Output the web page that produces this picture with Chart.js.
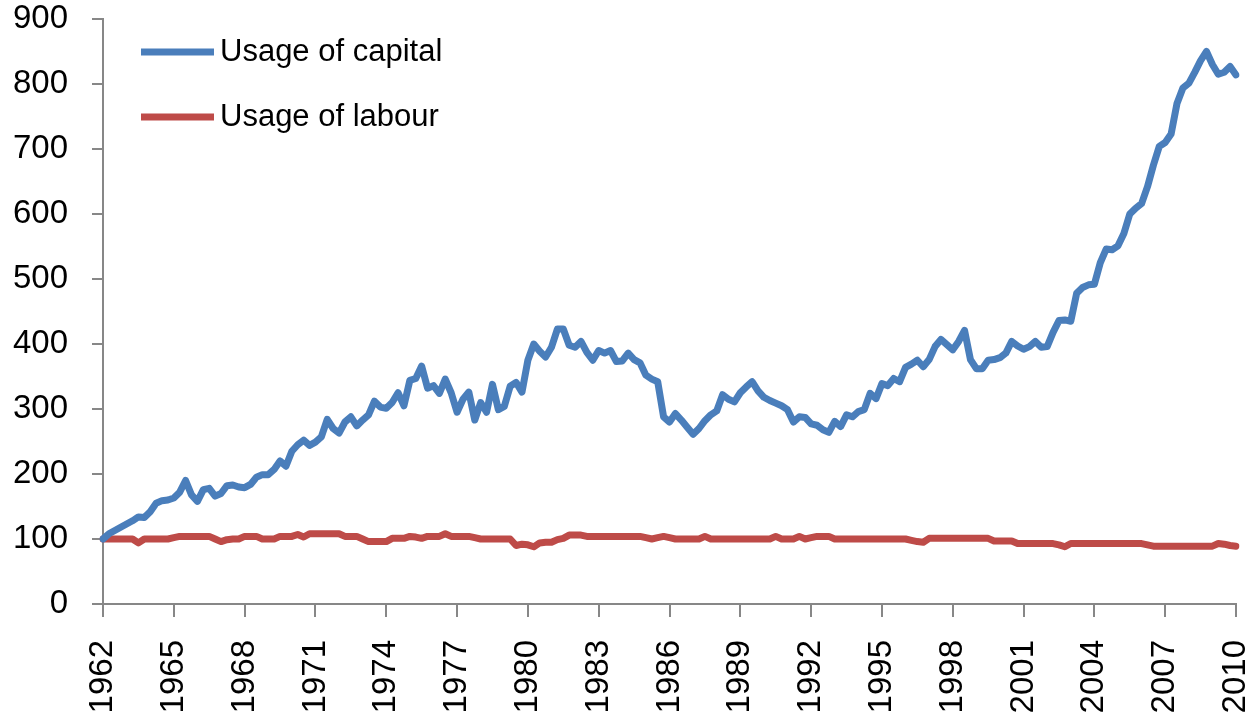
<!DOCTYPE html>
<html>
<head>
<meta charset="utf-8">
<script src="https://cdn.jsdelivr.net/npm/chart.js@4.4.1/dist/chart.umd.min.js"></script>
<style>
html,body{margin:0;padding:0;background:#fff;overflow:hidden}
#wrap{width:1256px;height:716px;position:relative}
</style>
</head>
<body>
<div id="wrap"><canvas id="c"></canvas></div>
<script>
// Quarterly index, 1962 Q1 = 100
const startYear = 1962;
const endYear = 2010;
const tickLabels = ['1962','1965','1968','1971','1974','1977','1980','1983','1986','1989','1992','1995','1998','2001','2004','2007','2010'];

const capital = [
  100,108,113,118, 123,128,134,133, 142,155,159,160, 163,172,190,168,
  158,176,178,166, 170,182,183,180, 179,184,195,199, 199,207,220,212,
  235,245,252,244, 249,257,284,270, 263,280,288,274, 283,291,312,303,
  301,310,325,305, 344,347,366,332, 336,324,346,325, 295,315,326,283,
  310,295,338,299, 304,335,341,326, 375,400,389,380, 395,423,423,398,
  395,404,387,375, 390,386,390,373, 374,386,376,371, 352,346,342,288,
  280,293,283,272, 261,270,282,291, 297,322,315,311, 325,334,342,328,
  318,313,309,305, 299,280,288,287, 277,275,268,264, 281,273,291,288,
  296,299,324,316, 339,336,347,342, 364,369,375,365, 376,396,407,399,
  391,404,421,376, 362,362,375,376, 379,386,404,397, 392,396,404,395,
  396,418,436,437, 435,478,487,491, 492,525,546,545, 551,570,600,609,
  616,642,675,704, 710,723,770,794, 801,818,836,850, 830,815,818,827,
  814
];

const labour = [
  100,100,100,100, 100,100,94,100, 100,100,100,100, 102,104,104,104,
  104,104,104,100, 96,99,100,100, 104,104,104,100, 100,100,104,104,
  104,107,103,108, 108,108,108,108, 108,104,104,104, 100,96,96,96,
  96,101,101,101, 104,103,101,104, 104,104,108,104, 104,104,104,102,
  100,100,100,100, 100,100,90,92, 91,88,94,95, 95,99,101,106,
  106,106,104,104, 104,104,104,104, 104,104,104,104, 102,100,102,104,
  102,100,100,100, 100,100,104,100, 100,100,100,100, 100,100,100,100,
  100,100,104,100, 100,100,104,100, 102,104,104,104, 100,100,100,100,
  100,100,100,100, 100,100,100,100, 100,98,96,95, 101,101,101,101,
  101,101,101,101, 101,101,101,97, 97,97,97,93, 93,93,93,93,
  93,93,91,88, 93,93,93,93, 93,93,93,93, 93,93,93,93,
  93,91,89,89, 89,89,89,89, 89,89,89,89, 89,93,92,90,
  89
];

const quarters = [];
for (let y = startYear; y <= endYear; y++) {
  for (let q = 1; q <= 4; q++) {
    if (y === endYear && q > 1) break;
    quarters.push(y + ' Q' + q);
  }
}

const FONT = '"Liberation Sans", Arial, sans-serif';
const AXIS_GREY = '#878787';

const insideLegend = {
  id: 'insideLegend',
  afterDraw(chart) {
    const ctx = chart.ctx;
    const a = chart.chartArea;
    chart.data.datasets.forEach((ds, i) => {
      const y = a.top + 33 + i * 65;
      ctx.save();
      ctx.strokeStyle = ds.borderColor;
      ctx.lineWidth = 7;
      ctx.lineCap = 'butt';
      ctx.beginPath();
      ctx.moveTo(a.left + 38, y);
      ctx.lineTo(a.left + 111, y);
      ctx.stroke();
      ctx.fillStyle = '#000';
      ctx.font = '31px ' + FONT;
      ctx.textBaseline = 'middle';
      ctx.textAlign = 'left';
      ctx.fillText(ds.label, a.left + 117, y);
      ctx.restore();
    });
  }
};

new Chart(document.getElementById('c'), {
  type: 'line',
  data: {
    labels: quarters,
    datasets: [
      { label: 'Usage of capital', data: capital, borderColor: '#4a7ebb', borderWidth: 7,
        pointRadius: 0, tension: 0, borderJoinStyle: 'round', borderCapStyle: 'round', fill: false },
      { label: 'Usage of labour', data: labour, borderColor: '#be4b48', borderWidth: 7,
        pointRadius: 0, tension: 0, borderJoinStyle: 'round', borderCapStyle: 'round', fill: false }
    ]
  },
  options: {
    responsive: true,
    maintainAspectRatio: false,
    animation: false,
    layout: { padding: { top: 19, right: 20, bottom: 0, left: 0 } },
    plugins: { legend: { display: false }, tooltip: { enabled: false } },
    scales: {
      x: {
        type: 'category',
        offset: false,
        afterFit(scale) {
          scale.height = 112;
          scale.paddingLeft = 0; scale.paddingRight = 0;
          scale.paddingTop = 0; scale.paddingBottom = 0;
        },
        grid: { display: true, drawOnChartArea: false, drawTicks: true, tickLength: 13, color: AXIS_GREY, lineWidth: 2 },
        border: { display: true, color: AXIS_GREY, width: 2 },
        ticks: {
          autoSkip: false, minRotation: 90, maxRotation: 90, padding: 23,
          color: '#000', font: { family: FONT, size: 33 },
          callback(value, index) { return index % 12 === 0 ? tickLabels[index / 12] : null; }
        }
      },
      y: {
        min: 0, max: 900,
        afterFit(scale) {
          scale.width = 103;
          scale.paddingLeft = 0; scale.paddingRight = 0;
          scale.paddingTop = 0; scale.paddingBottom = 0;
        },
        grid: { display: true, drawOnChartArea: false, drawTicks: true, tickLength: 11, color: AXIS_GREY, lineWidth: 2 },
        border: { display: true, color: AXIS_GREY, width: 2 },
        ticks: { stepSize: 100, padding: 24, color: '#000', font: { family: FONT, size: 33 } }
      }
    }
  },
  plugins: [insideLegend]
});
</script>
</body>
</html>
